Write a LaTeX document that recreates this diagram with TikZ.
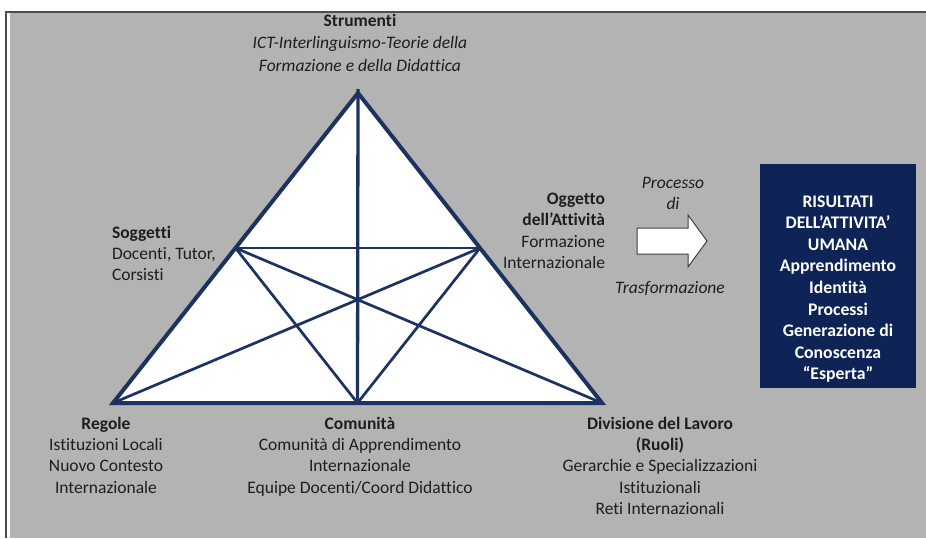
\documentclass[tikz,border=0pt]{standalone}
\usepackage{fontspec}
\setmainfont{Carlito}[Ligatures=NoCommon]
\usetikzlibrary{calc}
\definecolor{bggray}{RGB}{179,179,179}
\definecolor{navy}{RGB}{28,50,95}
\definecolor{boxnavy}{RGB}{14,36,86}
\definecolor{txt}{RGB}{30,30,30}
\begin{document}
\begin{tikzpicture}[x=1pt,y=-1pt,
  lbl/.style={inner sep=0pt, outer sep=0pt, text=txt, font=\fontsize{17.5}{21.3}\selectfont},
  outerline/.style={draw=navy, line width=4pt, line join=miter},
  innerline/.style={draw=navy, line width=2.7pt},
  vertline/.style={draw=navy, line width=3.3pt},
  arrowshape/.style={draw=black!75, fill=white, line width=1pt, line join=miter},
  resbox/.style={fill=boxnavy, inner sep=0pt, minimum width=156pt, minimum height=224pt},
  restext/.style={inner sep=0pt, text=white, align=center, font=\fontsize{17.7}{21.6}\selectfont\bfseries}
]
\useasboundingbox (0,0) rectangle (926,538);
\fill[white] (0,0) rectangle (926,538);
\fill[bggray] (9.5,13) rectangle (926,538);
\draw[line width=2pt, black!70] (6,538) -- (6,12) -- (926,12);

% triangle
\coordinate (A) at (358,93);
\coordinate (L) at (113,403);
\coordinate (R) at (602,403);
\coordinate (ML) at ($(A)!0.5!(L)$);
\coordinate (MR) at ($(A)!0.5!(R)$);
\coordinate (MB) at ($(L)!0.5!(R)$);
\fill[white] (A) -- (L) -- (R) -- cycle;
\draw[innerline] (ML) -- (MR);
\draw[innerline] (L) -- (MR);
\draw[innerline] (R) -- (ML);
\draw[innerline] (ML) -- (MB);
\draw[innerline] (MR) -- (MB);
\draw[vertline] ($(A)+(0,-4)$) -- (MB);
\draw[outerline] (A) -- (L) -- (R) -- cycle;

% labels
\node[lbl, anchor=north, align=center, font=\fontsize{17.5}{22.5}\selectfont] (strum) at (360,14)
  {\textbf{Strumenti}\\ \textit{ICT-Interlinguismo-Teorie della}\\ \textit{Formazione e della Didattica}};
\node[lbl, anchor=north west, align=left] (sogg) at (112,226)
  {\textbf{Soggetti}\\ Docenti, Tutor,\\ Corsisti};
\node[lbl, anchor=north east, align=right] (ogg) at (605,193)
  {\textbf{Oggetto}\\ \textbf{dell’Attività}\\ Formazione\\ Internazionale};
\node[lbl, anchor=north, align=center] (proc) at (673,177)
  {\textit{Processo}\\ \textit{di}};
\node[lbl, anchor=north, align=center] (trasf) at (670,281)
  {\textit{Trasformazione}};
\node[lbl, anchor=north, align=center] (reg) at (106,417)
  {\textbf{Regole}\\ Istituzioni Locali\\ Nuovo Contesto\\ Internazionale};
\node[lbl, anchor=north, align=center] (com) at (360,417)
  {\textbf{Comunità}\\ Comunità di Apprendimento\\ Internazionale\\ Equipe Docenti/Coord Didattico};
\node[lbl, anchor=north, align=center] (div) at (660,417)
  {\textbf{Divisione del Lavoro}\\ \textbf{(Ruoli)}\\ Gerarchie e Specializzazioni\\ Istituzionali\\ Reti Internazionali};

% block arrow
\draw[arrowshape] (637,228) -- (688,228) -- (688,215) -- (707,241) -- (688,267) -- (688,254) -- (637,254) -- cycle;

% results box
\node[resbox] (res) at (838,276) {};
\node[restext] (restxt) at ($(res.center)+(0,13)$)
  {RISULTATI\\ DELL’ATTIVITA’\\ UMANA\\ Apprendimento\\ Identità\\ Processi\\ Generazione di\\ Conoscenza\\ “Esperta”};
\end{tikzpicture}
\end{document}
